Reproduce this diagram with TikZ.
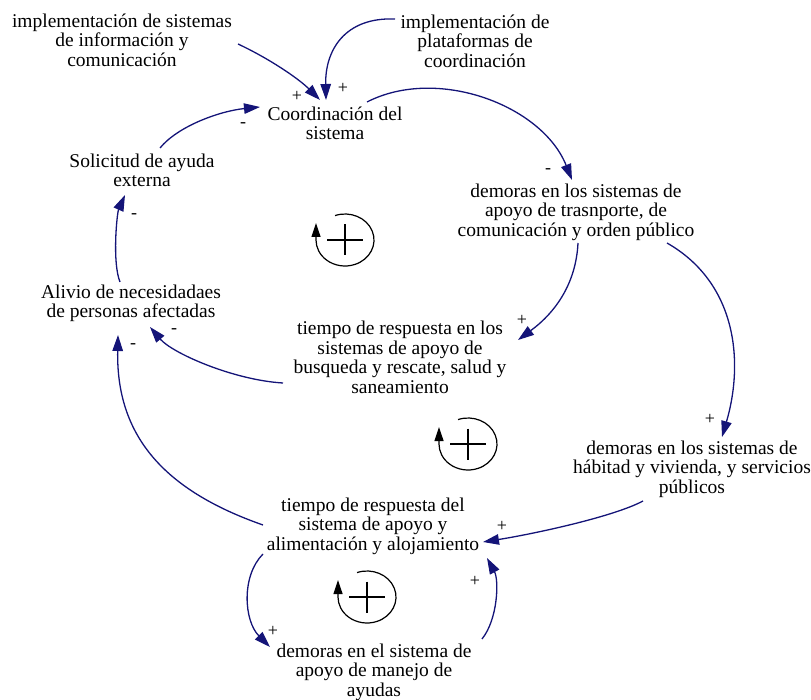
\documentclass[tikz,border=0pt]{standalone}
\usepackage{fontspec}
\setmainfont{Liberation Serif}
\usetikzlibrary{arrows.meta}

\definecolor{linkblue}{RGB}{20,20,120}

\tikzset{
  var/.style={font=\fontsize{19.5}{19.5}\selectfont, align=center, inner sep=0pt,
    execute at begin node=\strut, execute at end node=\strut},
  sign/.style={font=\fontsize{18}{18}\selectfont, inner sep=0pt},
  link/.style={draw=linkblue, line width=1.3pt, -{Triangle[length=16pt,width=10.5pt]}},
  loopline/.style={draw=black, line width=1.2pt},
  plusline/.style={draw=black, line width=2pt},
  loopsym/.pic={
    \draw[loopline,-{Triangle[length=14pt,width=9pt]}]
      (-110:29 and 26) arc[start angle=-110,end angle=180,x radius=29,y radius=26]
      -- ++(0,-17);
    \draw[plusline] (-18,0) -- (18,0) (0,-15.5) -- (0,15.5);
  }
}

\begin{document}
\begin{tikzpicture}[x=1pt,y=-1pt]
\useasboundingbox (0,0) rectangle (811,700);

% variables
\node[var] (n1) at (122,43) {implementación de sistemas\\de información y\\comunicación};
\node[var] (n2) at (475,44) {implementación de\\plataformas de\\coordinación};
\node[var] (n3) at (335,126) {Coordinación del\\sistema};
\node[var] (n4) at (142,173) {Solicitud de ayuda\\externa};
\node[var] (n5) at (576,213) {demoras en los sistemas de\\apoyo de trasnporte, de\\comunicación y orden público};
\node[var] (n6) at (131,304) {Alivio de necesidadaes\\de personas afectadas};
\node[var] (n7) at (400,360) {tiempo de respuesta en los\\sistemas de apoyo de\\busqueda y rescate, salud y\\saneamiento};
\node[var] (n8) at (692,470) {demoras en los sistemas de\\hábitad y vivienda, y servicios\\públicos};
\node[var] (n9) at (373,527) {tiempo de respuesta del\\sistema de apoyo y\\alimentación y alojamiento};
\node[var] (n10) at (374,673) {demoras en el sistema de\\apoyo de manejo de\\ayudas};

% causal links
\draw[link] ([shift={(116,1)}]n1.center) .. controls +(30,14) and +(-22,-22) .. ([shift={(-15,-26)}]n3.center);
\draw[link] ([shift={(-80,-25)}]n2.center) .. controls +(-50,-2) and +(-1,-50) .. ([shift={(-9,-26)}]n3.center);
\draw[link] ([shift={(18,-25)}]n4.center) .. controls +(18,-22) and +(-40,4) .. ([shift={(-75,-19)}]n3.center);
\draw[link] ([shift={(32,-24)}]n3.center) .. controls +(70,-36) and +(-30,-75) .. ([shift={(-4,-33)}]n5.center);
\draw[link] ([shift={(2,30)}]n5.center) .. controls +(-2,40) and +(38,-28) .. ([shift={(118,-20)}]n7.center);
\draw[link] ([shift={(91,30)}]n5.center) .. controls +(70,40) and +(22,-75) .. ([shift={(30,-33)}]n8.center);
\draw[link] ([shift={(-49,31)}]n8.center) .. controls +(-30,16) and +(50,-8) .. ([shift={(110,15)}]n9.center);
\draw[link] ([shift={(-110,27)}]n9.center) .. controls +(-22,22) and +(-26,-26) .. ([shift={(-104,-26)}]n10.center);
\draw[link] ([shift={(108,-34)}]n10.center) .. controls +(16,-20) and +(12,22) .. ([shift={(114,31)}]n9.center);
\draw[link] ([shift={(-110,-2)}]n9.center) .. controls +(-100,-35) and +(-2,100) .. ([shift={(-13,31)}]n6.center);
\draw[link] ([shift={(-117,23)}]n7.center) .. controls +(-50,-3) and +(22,26) .. ([shift={(19,23)}]n6.center);
\draw[link] ([shift={(-11,-22)}]n6.center) .. controls +(-8,-20) and +(-8,18) .. ([shift={(-17,22)}]n4.center);

% polarities
\node[sign] (sa) at (297,96) {+};
\node[sign] (sb) at (343,88) {+};
\node[sign] (sc) at (243,125) {-};
\node[sign] (sd) at (548,171) {-};
\node[sign] (se) at (522,320) {+};
\node[sign] (sf) at (710,419) {+};
\node[sign] (sg) at (502,526) {+};
\node[sign] (sh) at (273,631) {+};
\node[sign] (si) at (475,581) {+};
\node[sign] (sj) at (133,346) {-};
\node[sign] (sk) at (174,331) {-};
\node[sign] (sl) at (134,216) {-};

% reinforcing loops
\pic (loopA) at (345,240) {loopsym};
\pic (loopB) at (468,444) {loopsym};
\pic (loopC) at (367,597) {loopsym};
\end{tikzpicture}
\end{document}
